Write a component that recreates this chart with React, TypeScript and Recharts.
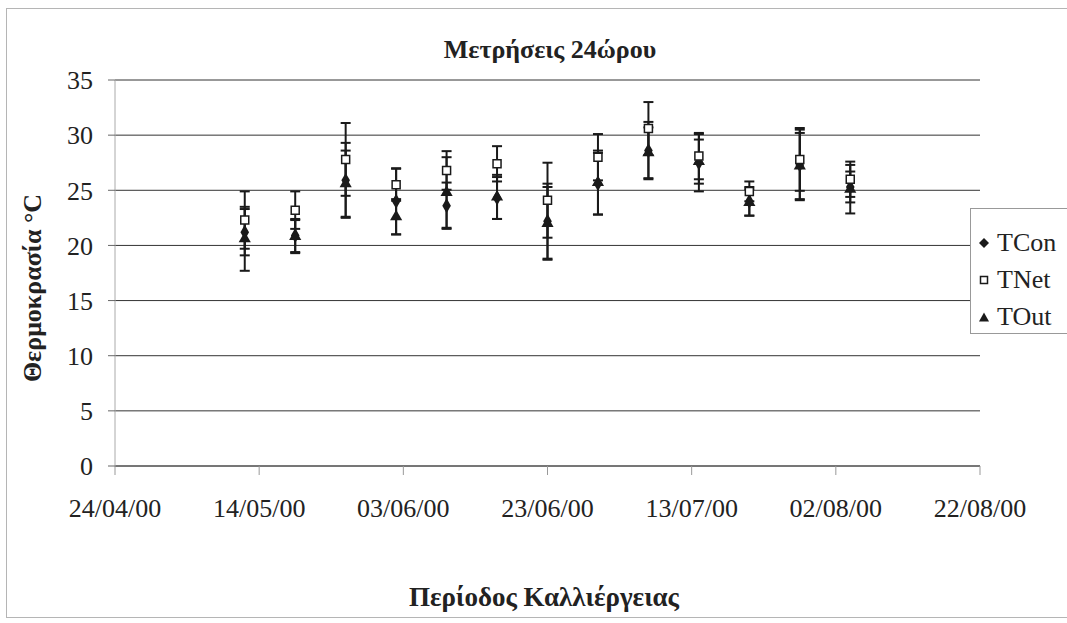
import React from 'react';
import { ScatterChart, Scatter, XAxis, YAxis, ZAxis, CartesianGrid, ErrorBar } from 'recharts';

// sampling dates (dd/mm/yy) and daily means / error per series
const DATES = ['12/05/00', '19/05/00', '26/05/00', '02/06/00', '09/06/00', '16/06/00', '23/06/00', '30/06/00', '07/07/00', '14/07/00', '21/07/00', '28/07/00', '04/08/00'];
const T_CON = [21.2, 20.9, 25.9, 24.0, 23.6, 24.3, 22.2, 25.6, 28.6, 27.5, 24.0, 27.3, 25.3];
const T_CON_ERR = [2.1, 1.5, 3.4, 3.0, 2.1, 1.9, 3.4, 2.8, 2.6, 2.6, 1.3, 3.2, 1.4];
const T_NET = [22.3, 23.2, 27.8, 25.5, 26.8, 27.4, 24.1, 28.0, 30.6, 28.1, 24.9, 27.8, 26.0];
const T_NET_ERR = [2.6, 1.7, 3.3, 1.45, 1.75, 1.6, 3.4, 2.1, 2.4, 2.1, 0.9, 2.85, 1.6];
const T_OUT = [20.6, 20.8, 25.6, 22.6, 24.8, 24.4, 22.0, 25.7, 28.4, 27.6, 23.9, 27.2, 25.1];
const T_OUT_ERR = [2.9, 1.5, 3.0, 1.6, 3.2, 2.0, 3.3, 2.9, 2.3, 2.0, 1.2, 3.0, 2.2];

const X_TICKS = ['24/04/00', '14/05/00', '03/06/00', '23/06/00', '13/07/00', '02/08/00', '22/08/00'];
const Y_TICKS = [0, 5, 10, 15, 20, 25, 30, 35];

const DAY = 86400000;
const toMs = (s: string) => {
  const [d, m, y] = s.split('/').map(Number);
  return Date.UTC(2000 + y, m - 1, d);
};
const BASE = toMs(X_TICKS[0]);
const toDay = (s: string) => Math.round((toMs(s) - BASE) / DAY);
const fmtDay = (v: number) => {
  const dt = new Date(BASE + v * DAY);
  const p = (n: number) => String(n).padStart(2, '0');
  return `${p(dt.getUTCDate())}/${p(dt.getUTCMonth() + 1)}/${p(dt.getUTCFullYear() % 100)}`;
};

const build = (vals: number[], errs: number[]) => DATES.map((d, i) => ({ x: toDay(d), y: vals[i], err: errs[i] }));
const conData = build(T_CON, T_CON_ERR);
const netData = build(T_NET, T_NET_ERR);
const outData = build(T_OUT, T_OUT_ERR);

const FONT = "'Liberation Serif', 'DejaVu Serif', Tinos, 'Times New Roman', Times, serif";
const INK = '#1a1a1a';

const tickStyle = { fontFamily: FONT, fontSize: 26, fill: '#222' };

const LegendIcon = ({ kind }: { kind: string }) => (
  <svg width={12} height={12} style={{ marginRight: 7 }}>
    {kind === 'con' && <polygon points="6,1 11,6 6,11 1,6" fill={INK} />}
    {kind === 'net' && <rect x={2.5} y={2.5} width={7} height={7} fill="#fff" stroke={INK} strokeWidth={1.5} />}
    {kind === 'out' && <polygon points="6,1.5 11,10.5 1,10.5" fill={INK} />}
  </svg>
);

export default function App() {
  const bar = <ErrorBar dataKey="err" direction="y" width={5} stroke={INK} strokeWidth={2} />;
  return (
    <div style={{ position: 'absolute', left: 0, top: 0, width: 1067, height: 623, overflow: 'hidden', background: '#fff', fontFamily: FONT }}>
      <div style={{ position: 'absolute', left: 6, top: 8, width: 1100, height: 608, border: '1px solid #b5b5b5' }} />
      <ScatterChart width={1067} height={623} margin={{ top: 80, right: 87, bottom: 127, left: 40 }} style={{ fontFamily: FONT }}>
        <CartesianGrid horizontal vertical={false} stroke="#333" strokeWidth={1} />
        <XAxis
          type="number"
          dataKey="x"
          domain={[0, 120]}
          ticks={X_TICKS.map(toDay)}
          tickFormatter={fmtDay}
          allowDataOverflow
          axisLine={{ stroke: '#555' }}
          tickLine={{ stroke: '#999' }}
          tickSize={9}
          tickMargin={24}
          fontSize={26}
          fontFamily={FONT}
          tick={tickStyle}
        />
        <YAxis
          type="number"
          dataKey="y"
          domain={[0, 35]}
          ticks={Y_TICKS}
          width={75}
          axisLine={{ stroke: '#aaa' }}
          tickLine={{ stroke: '#666' }}
          tickSize={7}
          tickMargin={15}
          fontSize={26}
          fontFamily={FONT}
          tick={tickStyle}
        />
        <ZAxis range={[90, 90]} />
        <Scatter name="TCon" data={conData} shape="diamond" fill={INK} isAnimationActive={false}>
          {bar}
        </Scatter>
        <Scatter name="TOut" data={outData} shape="triangle" fill={INK} isAnimationActive={false}>
          {bar}
        </Scatter>
        <Scatter name="TNet" data={netData} shape="square" fill="#fff" stroke={INK} strokeWidth={1.5} isAnimationActive={false}>
          {bar}
        </Scatter>
      </ScatterChart>
      <div style={{ position: 'absolute', left: 550, top: 35, transform: 'translateX(-50%)', whiteSpace: 'nowrap', fontWeight: 'bold', fontSize: 26, color: '#222' }}>
        Μετρήσεις 24ώρου
      </div>
      <div style={{ position: 'absolute', left: 544, top: 582, transform: 'translateX(-50%)', whiteSpace: 'nowrap', fontWeight: 'bold', fontSize: 27, color: '#222' }}>
        Περίοδος Καλλιέργειας
      </div>
      <div style={{ position: 'absolute', left: 33, top: 288, transform: 'translate(-50%, -50%) rotate(-90deg)', whiteSpace: 'nowrap', fontWeight: 'bold', fontSize: 26, color: '#222' }}>
        Θερμοκρασία °C
      </div>
      <div style={{ position: 'absolute', left: 970, top: 208, width: 120, height: 124, background: '#fff', border: '1px solid #999', fontSize: 26, color: '#222' }}>
        {[['con', 'TCon'], ['net', 'TNet'], ['out', 'TOut']].map(([k, label], i) => (
          <div key={k} style={{ position: 'absolute', left: 7, top: 19 + i * 37, height: 30, display: 'flex', alignItems: 'center', whiteSpace: 'nowrap' }}>
            <LegendIcon kind={k} />
            {label}
          </div>
        ))}
      </div>
    </div>
  );
}
